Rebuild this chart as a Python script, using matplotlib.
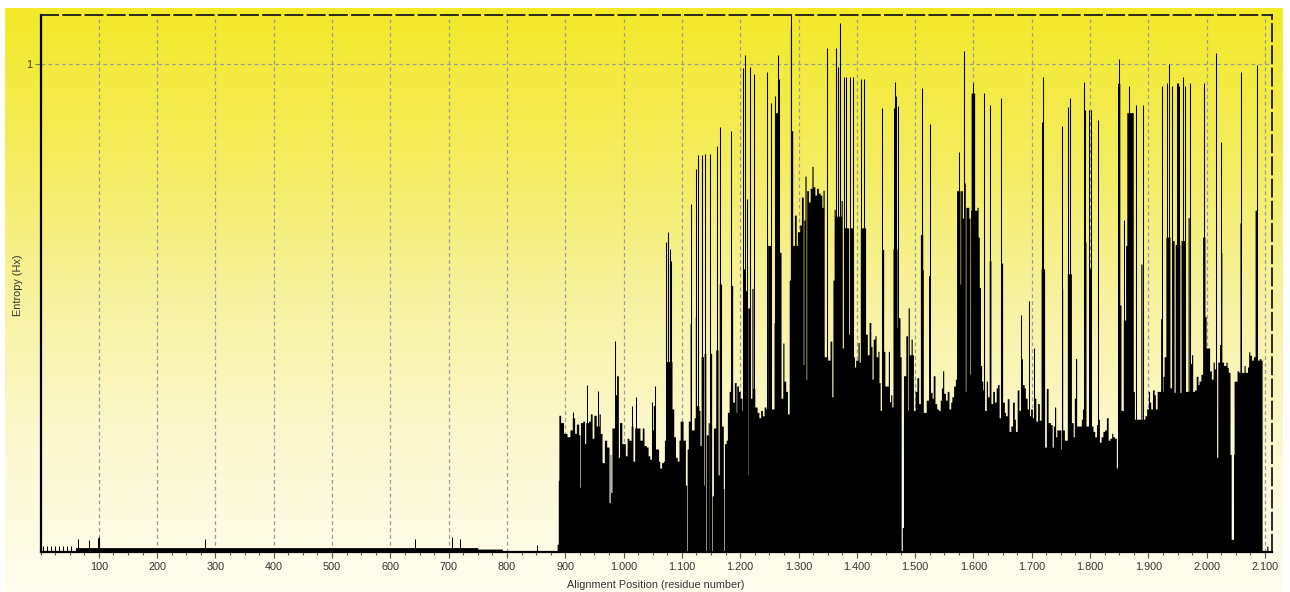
import numpy as np
import matplotlib
matplotlib.use("Agg")
import matplotlib.pyplot as plt
from matplotlib.ticker import FixedLocator, FuncFormatter, MultipleLocator

# ---------------- data ----------------
# filled profile: (segment start position, entropy level); each segment runs to the next start
seg_low = [(0, 0.0), (60, 0.009), (750, 0.006), (792, 0.003), (886, 0.016)]
seg_900 = [(888, 0.147), (889, 0.28), (892, 0.265), (897, 0.243), (903, 0.236), (908, 0.25),
           (912, 0.275), (916, 0.243), (919, 0.262), (923, 0.24), (925, 0.133), (926, 0.265),
           (930, 0.268), (933, 0.222), (935, 0.265), (940, 0.268), (943, 0.283), (946, 0.233),
           (949, 0.28), (953, 0.258), (958, 0.283), (960, 0.243), (963, 0.183), (967, 0.229),
           (971, 0.215), (975, 0.101), (977, 0.2), (978, 0.122), (980, 0.254), (985, 0.322),
           (988, 0.361), (991, 0.194), (993, 0.265), (997, 0.222)]
seg_1000 = [(1000, 0.222), (1003, 0.197), (1006, 0.233), (1009, 0.229), (1013, 0.258), (1016, 0.186),
            (1019, 0.254), (1028, 0.229), (1032, 0.254), (1035, 0.218), (1039, 0.215), (1042, 0.197),
            (1045, 0.19), (1048, 0.25), (1051, 0.30), (1054, 0.211), (1060, 0.186), (1062, 0.172),
            (1065, 0.183), (1068, 0.186), (1070, 0.229), (1072, 0.39), (1083, 0.293), (1086, 0.236),
            (1089, 0.194), (1092, 0.186), (1095, 0.229), (1097, 0.268)]
seg_1100 = [(1102, 0.229), (1106, 0.137), (1108, 0.0), (1109, 0.211), (1111, 0.268), (1114, 0.468),
            (1116, 0.25), (1121, 0.275), (1123, 0.482), (1125, 0.30), (1129, 0.29), (1131, 0.218),
            (1133, 0.4), (1137, 0.137), (1138, 0.407), (1141, 0.0), (1142, 0.24), (1145, 0.265),
            (1147, 0.0), (1148, 0.407), (1151, 0.0), (1152, 0.115), (1154, 0.254), (1158, 0.414),
            (1162, 0.158), (1164, 0.549), (1168, 0.258), (1171, 0.13), (1172, 0.0), (1173, 0.222),
            (1176, 0.229), (1178, 0.286), (1181, 0.329), (1184, 0.546), (1187, 0.307), (1190, 0.347),
            (1193, 0.286), (1194, 0.34), (1197, 0.329)]
seg_1200 = [(1200, 0.315), (1203, 0.29), (1204, 0.58), (1209, 0.535), (1211, 0.5), (1212, 0.158),
            (1213, 0.5), (1216, 0.315), (1220, 0.54), (1222, 0.335), (1225, 0.297), (1229, 0.286),
            (1232, 0.275), (1235, 0.29), (1238, 0.279), (1241, 0.297), (1244, 0.293), (1247, 0.628),
            (1252, 0.293), (1258, 0.47), (1260, 0.9), (1267, 0.614), (1270, 0.315), (1273, 0.428),
            (1275, 0.35), (1278, 0.329), (1281, 0.283), (1284, 0.557), (1286, 1.076), (1288, 0.863),
            (1290, 0.628), (1293, 0.69), (1296, 0.628)]
seg_1300 = [(1298, 0.656), (1302, 0.67), (1305, 0.727), (1308, 0.384), (1309, 0.68), (1311, 0.77),
            (1313, 0.353), (1314, 0.74), (1317, 0.717), (1320, 0.745), (1323, 0.79), (1325, 0.748),
            (1328, 0.731), (1331, 0.745), (1334, 0.735), (1337, 0.731), (1340, 0.706), (1342, 0.741),
            (1344, 0.4), (1350, 0.393), (1354, 0.432), (1357, 0.318), (1359, 0.557), (1361, 0.702),
            (1363, 0.688), (1373, 0.72), (1375, 0.418), (1377, 0.664), (1386, 0.446), (1388, 0.664),
            (1393, 0.4), (1396, 0.379)]
seg_1400 = [(1398, 0.393), (1402, 0.429), (1404, 0.389), (1406, 0.664), (1415, 0.446), (1418, 0.404),
            (1421, 0.47), (1424, 0.421), (1426, 0.354), (1428, 0.436), (1431, 0.443), (1433, 0.4),
            (1436, 0.411), (1438, 0.347), (1440, 0.29), (1443, 0.62), (1446, 0.411), (1448, 0.34),
            (1454, 0.411), (1456, 0.308), (1458, 0.322), (1460, 0.297), (1462, 0.621), (1464, 0.46),
            (1465, 0.621), (1469, 0.46), (1471, 0.48), (1474, 0.4), (1476, 0.0), (1478, 0.05),
            (1480, 0.361), (1484, 0.443), (1487, 0.29), (1488, 0.5), (1490, 0.404), (1493, 0.436),
            (1495, 0.404), (1497, 0.29)]
seg_1500 = [(1500, 0.329), (1503, 0.357), (1506, 0.304), (1509, 0.65), (1513, 0.578), (1514, 0.286),
            (1519, 0.311), (1523, 0.566), (1526, 0.327), (1529, 0.315), (1531, 0.361), (1534, 0.304),
            (1537, 0.293), (1540, 0.29), (1543, 0.311), (1545, 0.336), (1547, 0.371), (1549, 0.325),
            (1552, 0.311), (1555, 0.329), (1558, 0.293), (1561, 0.307), (1563, 0.318), (1566, 0.34),
            (1569, 0.354), (1571, 0.74), (1577, 0.549), (1578, 0.74), (1581, 0.684), (1583, 0.756),
            (1586, 0.329), (1587, 0.706), (1592, 0.684), (1594, 0.364), (1595, 0.7), (1596, 0.94)]
seg_1600 = [(1602, 0.7), (1606, 0.706), (1608, 0.645), (1610, 0.542), (1612, 0.382), (1614, 0.35),
            (1616, 0.332), (1618, 0.637), (1619, 0.29), (1622, 0.35), (1624, 0.318), (1627, 0.596),
            (1630, 0.304), (1633, 0.329), (1636, 0.307), (1639, 0.336), (1641, 0.343), (1644, 0.275),
            (1647, 0.592), (1650, 0.307), (1653, 0.286), (1655, 0.279), (1658, 0.314), (1661, 0.247),
            (1664, 0.258), (1667, 0.307), (1670, 0.272), (1672, 0.247), (1675, 0.332), (1678, 0.29),
            (1681, 0.396), (1684, 0.343), (1687, 0.336), (1689, 0.315), (1692, 0.293), (1695, 0.279),
            (1698, 0.293)]
seg_1700 = [(1701, 0.275), (1704, 0.315), (1707, 0.268), (1710, 0.304), (1713, 0.27), (1716, 0.58),
            (1722, 0.215), (1725, 0.335), (1728, 0.265), (1732, 0.261), (1735, 0.215), (1737, 0.258),
            (1739, 0.297), (1741, 0.236), (1743, 0.25), (1750, 0.211), (1751, 0.54), (1753, 0.25),
            (1756, 0.229), (1761, 0.57), (1768, 0.265), (1771, 0.236), (1773, 0.315), (1775, 0.396),
            (1777, 0.258), (1785, 0.272), (1787, 0.293), (1789, 0.635), (1793, 0.258), (1798, 0.581)]
seg_1800 = [(1802, 0.258), (1805, 0.247), (1808, 0.236), (1811, 0.261), (1813, 0.553), (1814, 0.272),
            (1816, 0.225), (1819, 0.236), (1822, 0.247), (1825, 0.25), (1828, 0.275), (1831, 0.229),
            (1834, 0.233), (1837, 0.243), (1839, 0.236), (1842, 0.233), (1845, 0.172), (1847, 0.96),
            (1851, 0.506), (1853, 0.29), (1857, 0.475), (1861, 0.628), (1863, 0.9), (1874, 0.329),
            (1876, 0.272), (1887, 0.59), (1889, 0.272), (1894, 0.279), (1897, 0.293), (1900, 0.329)]
seg_1900 = [(1902, 0.307), (1904, 0.293), (1907, 0.332), (1910, 0.322), (1912, 0.293), (1915, 0.329),
            (1921, 0.478), (1923, 0.329), (1925, 0.36), (1927, 0.4), (1930, 0.645), (1937, 0.336),
            (1940, 0.638), (1944, 0.327), (1946, 0.63), (1954, 0.327), (1956, 0.638), (1963, 0.329),
            (1968, 0.685), (1970, 0.329), (1972, 0.386), (1974, 0.404), (1976, 0.329), (1979, 0.332),
            (1982, 0.36), (1985, 0.343), (1987, 0.35), (1990, 0.364), (1993, 0.645), (1997, 0.482)]
seg_2000 = [(1999, 0.418), (2005, 0.371), (2008, 0.354), (2011, 0.389), (2013, 0.375), (2017, 0.194),
            (2019, 0.389), (2022, 0.425), (2024, 0.613), (2026, 0.389), (2029, 0.382), (2033, 0.389),
            (2035, 0.378), (2037, 0.368), (2040, 0.2), (2042, 0.026), (2046, 0.2), (2047, 0.35),
            (2052, 0.371), (2055, 0.368), (2057, 0.674), (2059, 0.368), (2064, 0.382), (2066, 0.368),
            (2070, 0.379), (2072, 0.41), (2074, 0.403), (2077, 0.393), (2080, 0.4), (2083, 0.70),
            (2086, 0.393), (2090, 0.396), (2093, 0.393), (2095, 0.0), (2103, 0.012), (2105, 0.0)]
profile_end = 2112

# single-residue peaks: (position, entropy)
spikes_low = [(4, 0.012), (11, 0.012), (18, 0.012), (25, 0.012), (32, 0.012), (39, 0.012),
              (46, 0.012), (53, 0.012), (65, 0.026), (83, 0.025), (98, 0.028), (101, 0.03),
              (282, 0.027), (643, 0.026), (706, 0.03), (720, 0.026), (852, 0.014)]
spikes_main = [(914, 0.286), (938, 0.343), (956, 0.329), (986, 0.432), (1015, 0.30), (1022, 0.318),
               (1049, 0.307), (1053, 0.34),
               (1073, 0.635), (1076, 0.656), (1077, 0.645), (1079, 0.62), (1081, 0.596),
               (1115, 0.713), (1124, 0.784), (1127, 0.813), (1134, 0.802), (1135, 0.813),
               (1139, 0.816), (1149, 0.816), (1160, 0.831), (1165, 0.87), (1185, 0.863),
               (1205, 0.991), (1208, 1.019), (1211, 0.724), (1217, 0.994), (1224, 0.98),
               (1246, 0.984), (1253, 0.92), (1259, 0.934), (1265, 1.019), (1266, 0.969), (1287, 1.10),
               (1348, 1.033), (1364, 1.033), (1368, 0.994), (1371, 1.083), (1378, 0.973),
               (1382, 0.973), (1389, 0.973), (1394, 0.973),
               (1407, 0.969), (1412, 0.969), (1444, 0.909), (1463, 0.909), (1466, 0.962),
               (1468, 0.934), (1471, 0.913),
               (1511, 0.95), (1512, 0.89), (1525, 0.877), (1576, 0.82), (1584, 1.026), (1599, 0.96),
               (1618, 0.94), (1629, 0.916), (1648, 0.93), (1681, 0.485), (1696, 0.514),
               (1703, 0.418), (1717, 0.88), (1720, 0.973), (1752, 0.873), (1762, 0.912),
               (1765, 0.93), (1789, 0.962), (1792, 0.905), (1799, 0.905), (1801, 0.905),
               (1813, 0.884), (1849, 1.01), (1858, 0.68), (1866, 0.955), (1879, 0.916), (1890, 0.916),
               (1924, 0.955), (1932, 0.96), (1936, 1.0), (1941, 0.955), (1949, 0.96), (1951, 0.96),
               (1953, 0.955), (1960, 0.973), (1962, 0.955), (1971, 0.96), (1996, 0.96),
               (2016, 1.023), (2025, 0.84), (2058, 0.984), (2086, 0.998)]

x_ticks = list(range(100, 2101, 100))
y_ticks = [1]
x_label = "Alignment Position (residue number)"
y_label = "Entropy (Hx)"

# ---------------- figure ----------------
W, H = 1290, 592
fig = plt.figure(figsize=(W / 100, H / 100), dpi=100)
fig.patch.set_facecolor("white")

# gradient backdrop panel
bg = fig.add_axes([5 / W, 0, 1278 / W, 584 / H], zorder=-10)
stops_f = np.array([0.0, 0.25, 0.5, 0.75, 1.0])
stops_c = np.array([[242, 233, 40], [244, 236, 92], [247, 242, 160], [251, 248, 208], [254, 253, 238]]) / 255
t = np.linspace(0, 1, 400)
grad = np.stack([np.interp(t, stops_f, stops_c[:, k]) for k in range(3)], axis=1)
bg.imshow(grad[:, None, :], aspect="auto", extent=[0, 1, 0, 1], interpolation="bilinear")
bg.set_axis_off()

ax = fig.add_axes([40.5 / W, 1 - 552 / H, (1272 - 40.5) / W, (552 - 15) / H])
ax.set_facecolor("none")

segs = seg_low + seg_900 + seg_1000 + seg_1100 + seg_1200 + seg_1300 + seg_1400 + \
    seg_1500 + seg_1600 + seg_1700 + seg_1800 + seg_1900 + seg_2000
sx = [p for p, _ in segs] + [profile_end]
sy = [v for _, v in segs] + [segs[-1][1]]
ax.fill_between(sx, 0, sy, step="post", color="black", linewidth=0, zorder=3)

spk = spikes_low + spikes_main
ax.vlines([p for p, _ in spk], 0, [v for _, v in spk], color="black", linewidth=0.75, zorder=3)

ax.set_xlim(0, 2112)
ax.set_ylim(0, 1.10)

ax.xaxis.set_major_locator(FixedLocator(x_ticks))
ax.xaxis.set_minor_locator(MultipleLocator(25))
ax.xaxis.set_major_formatter(FuncFormatter(lambda v, p: f"{int(round(v)):,}".replace(",", ".")))
ax.yaxis.set_major_locator(FixedLocator(y_ticks))
ax.yaxis.set_minor_locator(FixedLocator([]))

font = "Liberation Sans"
ax.tick_params(axis="x", which="major", length=4, width=0.8, color="#555555", pad=3,
               labelsize=7.8, labelcolor="#333333")
ax.tick_params(axis="x", which="minor", length=2, width=0.8, color="#555555")
ax.tick_params(axis="y", which="major", length=4, width=0.8, color="#777777", pad=2,
               labelsize=7.8, labelcolor="#5a3a10")
for lab in ax.get_xticklabels() + ax.get_yticklabels():
    lab.set_fontfamily(font)

ax.grid(True, which="major", axis="both", color="#9a9a9a", linestyle=(0, (3, 2.5)), linewidth=0.9, zorder=1)
ax.set_axisbelow(True)

for side in ("left", "bottom"):
    ax.spines[side].set_color("black")
    ax.spines[side].set_linewidth(1.6)
for side in ("top", "right"):
    ax.spines[side].set_color("#1a1a1a")
    ax.spines[side].set_linewidth(1.3)
    ax.spines[side].set_linestyle((0, (9.5, 2.8)))

fig.text(656 / W, 1 - 585 / H, x_label, ha="center", va="center", fontsize=7.8,
         color="#333333", family=font)
fig.text(18 / W, 1 - 285 / H, y_label, ha="center", va="center", rotation=90, fontsize=7.8,
         color="#333333", family=font)

fig.savefig("out.png", dpi=100, facecolor="white")
